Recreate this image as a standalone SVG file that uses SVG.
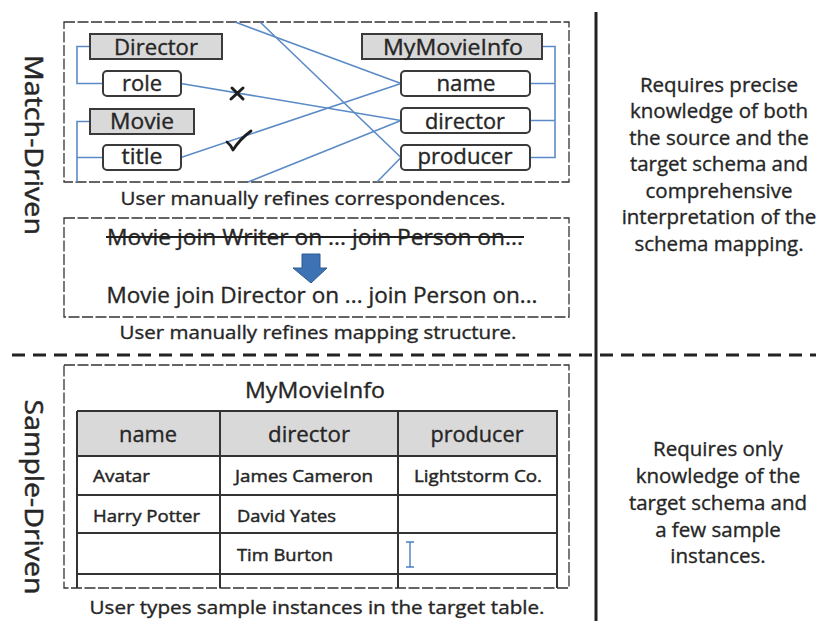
<svg xmlns="http://www.w3.org/2000/svg" width="816" height="621" viewBox="0 0 816 621">
  <style>
    text { font-family: "Open Sans", "Noto Sans", "Liberation Sans", sans-serif; fill: #262626; stroke: #262626; stroke-width: 0.35; }
    .lbl { font-size: 21px; text-anchor: middle; }
    .cap { font-size: 18px; text-anchor: middle; }
    .side { font-size: 26px; text-anchor: middle; stroke-width: 0.5; }
    .note { font-size: 20.5px; text-anchor: middle; }
    .cell { font-size: 17px; stroke-width: 0.45; }
    .frame { fill: none; stroke: #333; stroke-width: 1.3; stroke-dasharray: 11 2.5; }
    .ent { fill: #d9d9d9; stroke: #3a3a3a; stroke-width: 2; }
    .att { fill: #fff; stroke: #3a3a3a; stroke-width: 2; }
    .link { fill: none; stroke: #5b8bc7; stroke-width: 1.6; }
    .grid { stroke: #333; stroke-width: 2; fill: none; }
  </style>

  <!-- section dividers -->
  <line x1="596" y1="12" x2="596" y2="621" stroke="#222" stroke-width="3"/>
  <line x1="12" y1="355" x2="816" y2="355" stroke="#222" stroke-width="3" stroke-dasharray="13 8"/>

  <!-- approach titles -->
  <text class="side" transform="translate(25,145) rotate(90)" textLength="180" lengthAdjust="spacingAndGlyphs">Match-Driven</text>
  <text class="side" transform="translate(25,497) rotate(90)" textLength="195" lengthAdjust="spacingAndGlyphs">Sample-Driven</text>

  <!-- correspondence panel -->
  <rect class="frame" x="64" y="22" width="505" height="160"/>

  <g id="connectors">
    <!-- schema brackets -->
    <path class="link" d="M90,46.5 H77 V83.5 H103"/>
    <path class="link" d="M90,121.5 H77 V182 M77,157.5 H103"/>
    <path class="link" d="M542,46.5 H555 V157.5 H530 M530,83.5 H555 M530,120.5 H555"/>
    <!-- correspondences -->
    <path class="link" d="M235,22 L401,83.5"/>
    <path class="link" d="M260,22 L401,157.5"/>
    <path class="link" d="M181,83.5 L401,120.5"/>
    <path class="link" d="M181,157.5 L401,83.5"/>
    <path class="link" d="M248,182 L401,120.5"/>
    <path class="link" d="M377,182 L401,157.5"/>
    <!-- reject / accept marks -->
    <path d="M232,88 L243,99 M243,88 L231,99" stroke="#1e1e1e" stroke-width="3" stroke-linecap="round" fill="none"/>
    <path d="M227,142 Q231,145 233,150 Q240,139 251,131" stroke="#1e1e1e" stroke-width="2.8" stroke-linecap="round" stroke-linejoin="round" fill="none"/>
  </g>

  <g id="director-entity">
    <rect class="ent" x="90" y="34" width="132" height="25"/>
    <text class="lbl" x="156" y="55" textLength="84" lengthAdjust="spacingAndGlyphs">Director</text>
  </g>
  <g id="director-role">
    <rect class="att" x="103" y="71" width="78" height="25" rx="4"/>
    <text class="lbl" x="142" y="91" textLength="40" lengthAdjust="spacingAndGlyphs">role</text>
  </g>
  <g id="movie-entity">
    <rect class="ent" x="90" y="109" width="104" height="25"/>
    <text class="lbl" x="142" y="129" textLength="64" lengthAdjust="spacingAndGlyphs">Movie</text>
  </g>
  <g id="movie-title">
    <rect class="att" x="103" y="145" width="78" height="25" rx="4"/>
    <text class="lbl" x="142" y="164" textLength="41" lengthAdjust="spacingAndGlyphs">title</text>
  </g>
  <g id="target-entity">
    <rect class="ent" x="362" y="34" width="180" height="25"/>
    <text class="lbl" x="453" y="55" textLength="140" lengthAdjust="spacingAndGlyphs">MyMovieInfo</text>
  </g>
  <g id="target-name">
    <rect class="att" x="401" y="71" width="129" height="25" rx="4"/>
    <text class="lbl" x="466" y="91" textLength="59" lengthAdjust="spacingAndGlyphs">name</text>
  </g>
  <g id="target-director">
    <rect class="att" x="401" y="108" width="129" height="25" rx="4"/>
    <text class="lbl" x="465" y="129" textLength="80" lengthAdjust="spacingAndGlyphs">director</text>
  </g>
  <g id="target-producer">
    <rect class="att" x="401" y="145" width="129" height="25" rx="4"/>
    <text class="lbl" x="465" y="164" textLength="95" lengthAdjust="spacingAndGlyphs">producer</text>
  </g>

  <text class="cap" x="313" y="205" textLength="385" lengthAdjust="spacingAndGlyphs">User manually refines correspondences.</text>

  <!-- mapping structure panel -->
  <g id="mapping-structure">
    <rect class="frame" x="64" y="218" width="505" height="99"/>
    <text class="lbl" x="315" y="245" textLength="416" lengthAdjust="spacingAndGlyphs">Movie join Writer on ... join Person on...</text>
    <line x1="106" y1="237" x2="524" y2="237" stroke="#1e1e1e" stroke-width="2"/>
    <path d="M302,254 H320 V268 H327 L311,283 L293,268 H302 Z" fill="#3d72b4" stroke="#2c5a93" stroke-width="1"/>
    <text class="lbl" x="322" y="303" textLength="431" lengthAdjust="spacingAndGlyphs">Movie join Director on ... join Person on...</text>
  </g>
  <text class="cap" x="318" y="339" textLength="397" lengthAdjust="spacingAndGlyphs">User manually refines mapping structure.</text>

  <!-- sample table panel -->
  <rect class="frame" x="64" y="365" width="505" height="223"/>
  <g id="sample-table">
    <text class="lbl" x="315" y="398" textLength="140" lengthAdjust="spacingAndGlyphs">MyMovieInfo</text>
    <rect x="77" y="411" width="480" height="45" fill="#d9d9d9"/>
    <path class="grid" d="M77,411 H558 M77,456 H558 M77,495 H558 M77,533 H558 M77,574 H558"/>
    <path class="grid" d="M77,411 V588 M220,411 V588 M398,411 V588 M557,411 V588"/>
    <text class="lbl" x="148" y="442" textLength="58" lengthAdjust="spacingAndGlyphs">name</text>
    <text class="lbl" x="309" y="442" textLength="82" lengthAdjust="spacingAndGlyphs">director</text>
    <text class="lbl" x="477" y="442" textLength="93" lengthAdjust="spacingAndGlyphs">producer</text>
    <text class="cell" x="93" y="482" textLength="57" lengthAdjust="spacingAndGlyphs">Avatar</text>
    <text class="cell" x="235" y="482" textLength="138" lengthAdjust="spacingAndGlyphs">James Cameron</text>
    <text class="cell" x="414" y="482" textLength="128" lengthAdjust="spacingAndGlyphs">Lightstorm Co.</text>
    <text class="cell" x="93" y="522" textLength="107" lengthAdjust="spacingAndGlyphs">Harry Potter</text>
    <text class="cell" x="237" y="522" textLength="99" lengthAdjust="spacingAndGlyphs">David Yates</text>
    <text class="cell" x="237" y="561" textLength="96" lengthAdjust="spacingAndGlyphs">Tim Burton</text>
    <!-- text cursor -->
    <path d="M406,542 H414 M410,542 V567 M406,567 H414" stroke="#4a7fc0" stroke-width="1.4" fill="none"/>
  </g>
  <text class="cap" x="317" y="614" textLength="455" lengthAdjust="spacingAndGlyphs">User types sample instances in the target table.</text>

  <!-- requirement notes -->
  <g id="match-note">
    <text class="note" x="719" y="92">Requires precise</text>
    <text class="note" x="719" y="118">knowledge of both</text>
    <text class="note" x="719" y="145">the source and the</text>
    <text class="note" x="719" y="171">target schema and</text>
    <text class="note" x="719" y="198">comprehensive</text>
    <text class="note" x="719" y="224">interpretation of the</text>
    <text class="note" x="719" y="251">schema mapping.</text>
  </g>
  <g id="sample-note">
    <text class="note" x="718" y="456">Requires only</text>
    <text class="note" x="718" y="483">knowledge of  the</text>
    <text class="note" x="718" y="510">target schema and</text>
    <text class="note" x="718" y="537">a few sample</text>
    <text class="note" x="718" y="563">instances.</text>
  </g>
</svg>
